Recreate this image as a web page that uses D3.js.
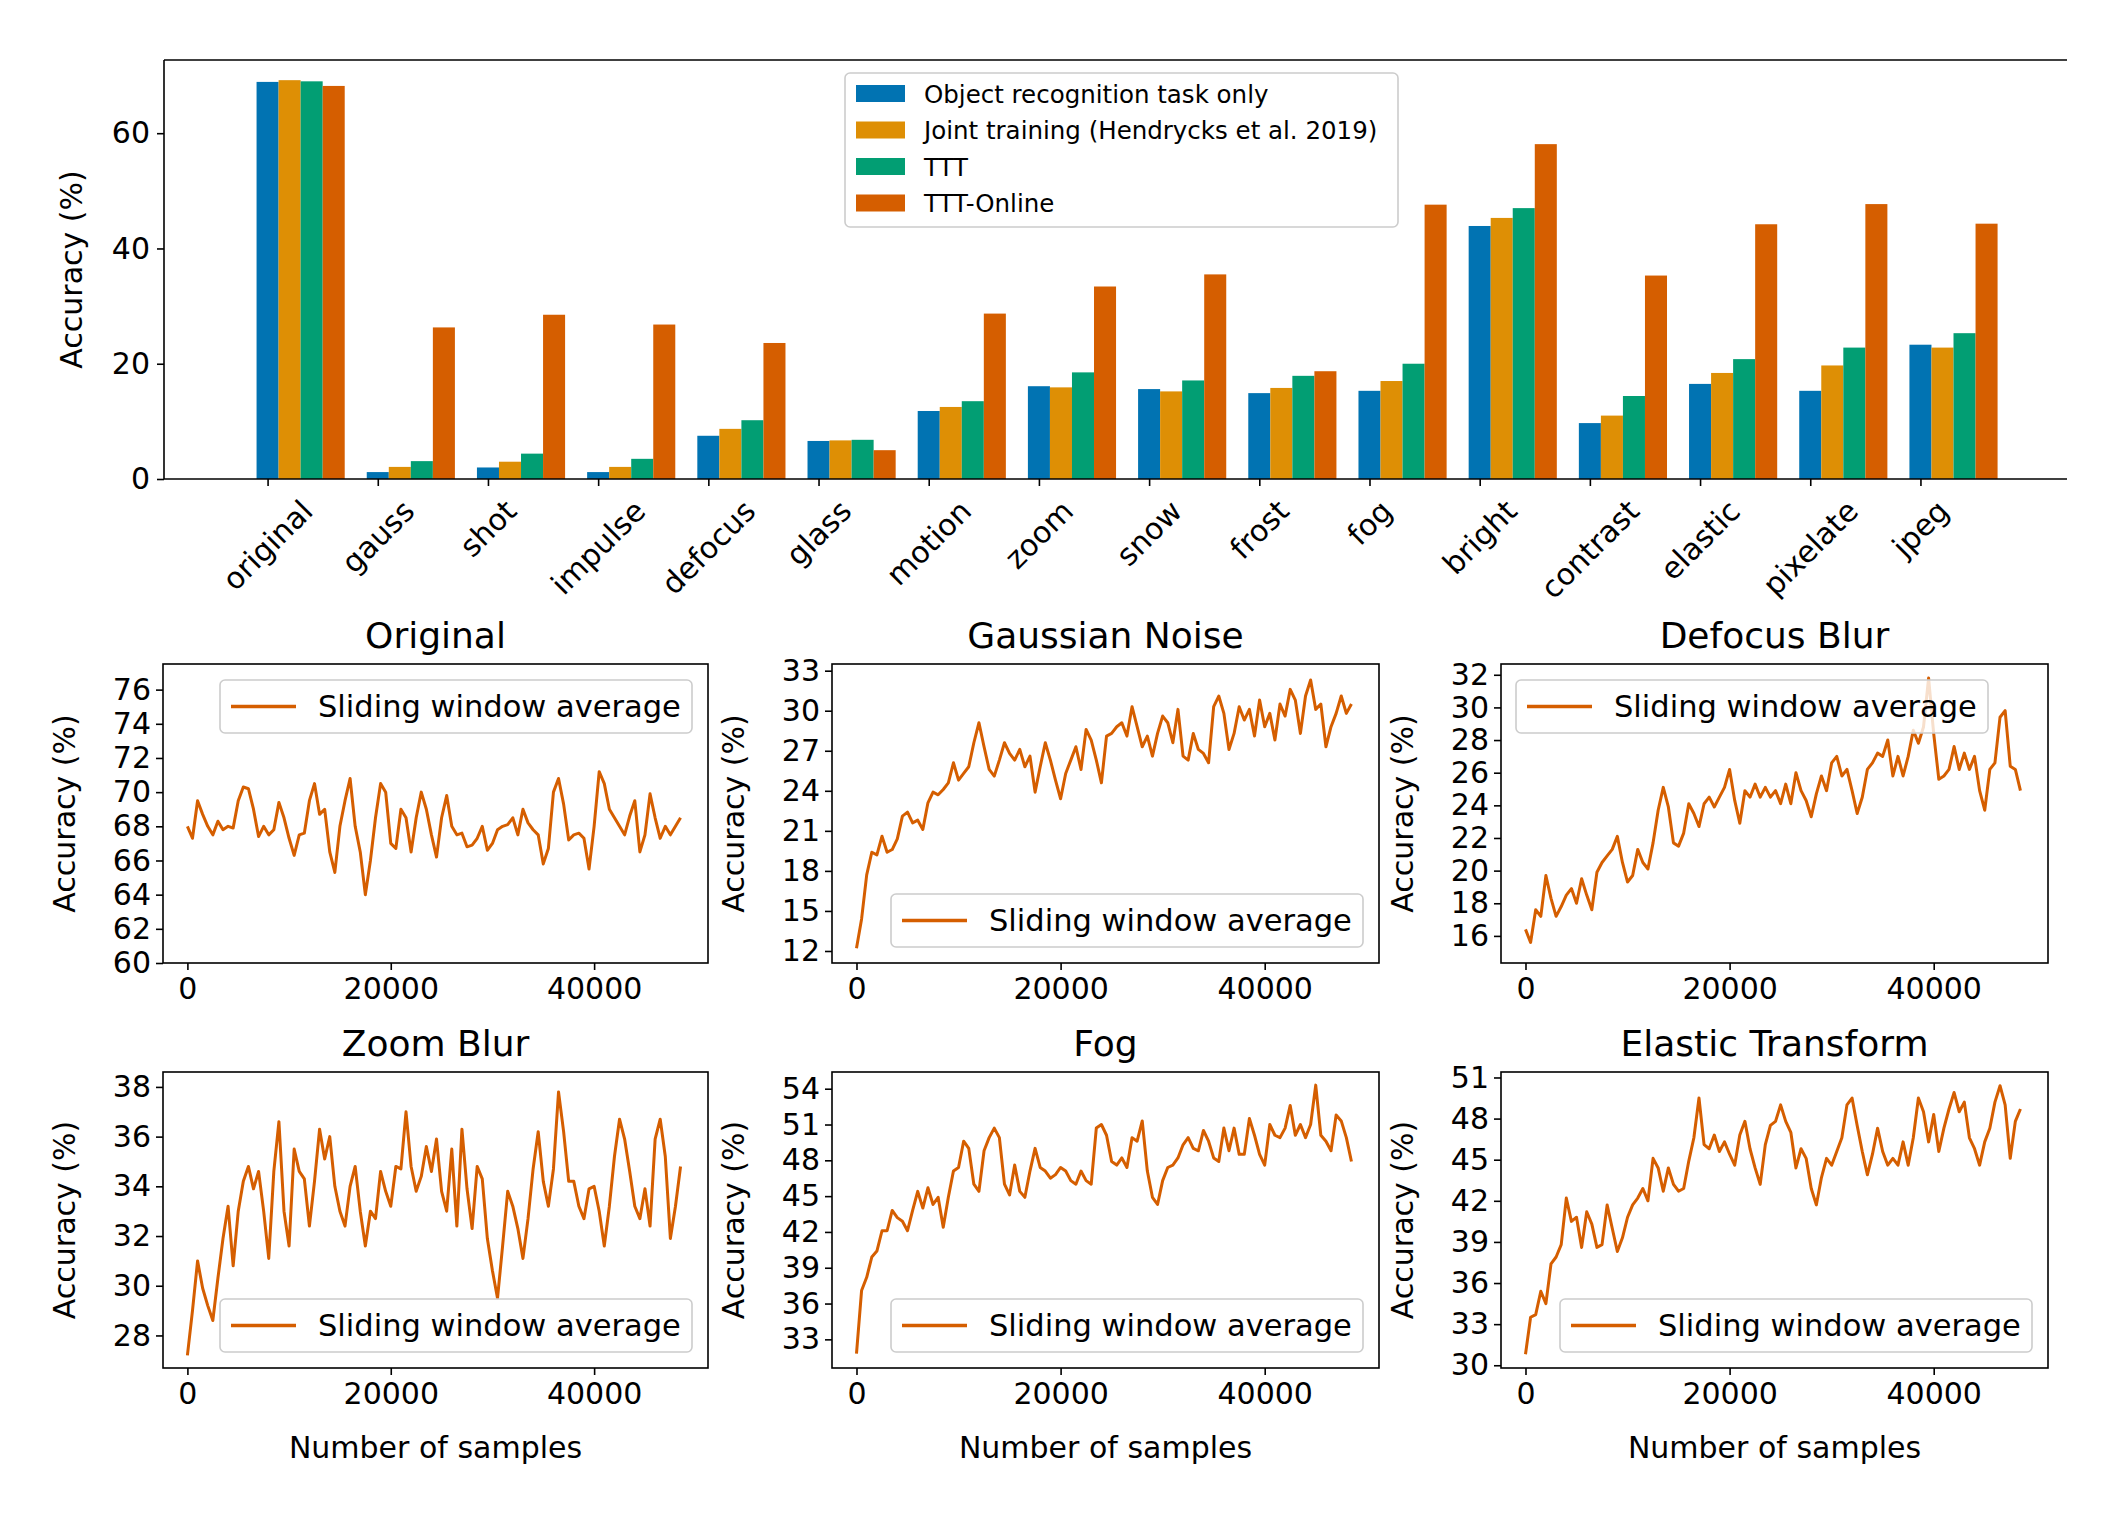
<!DOCTYPE html>
<html><head><meta charset="utf-8">
<script src="https://cdn.jsdelivr.net/npm/d3@7"></script>
<style>body{margin:0;background:#fff}text{font-family:"DejaVu Sans",sans-serif;fill:#000}</style>
</head><body><svg id="c" width="2126" height="1521"></svg>
<script>
const categories=["original","gauss","shot","impulse","defocus","glass","motion","zoom","snow","frost","fog","bright","contrast","elastic","pixelate","jpeg"];
const seriesNames=["Object recognition task only","Joint training (Hendrycks et al. 2019)","TTT","TTT-Online"];
const colors=["#0173b2","#de8f05","#029e73","#d55e00"];
const objOnly=[68.9,1.2,2.0,1.2,7.5,6.6,11.8,16.1,15.6,14.9,15.3,43.9,9.7,16.5,15.3,23.3];
const joint=[69.2,2.1,3.0,2.1,8.7,6.7,12.5,15.9,15.2,15.8,17.0,45.3,11.0,18.4,19.7,22.8];
const ttt=[69.0,3.1,4.4,3.5,10.2,6.8,13.5,18.5,17.1,17.9,20.0,47.0,14.4,20.8,22.8,25.3];
const tttOnline=[68.2,26.3,28.5,26.8,23.6,5.0,28.7,33.4,35.5,18.7,47.6,58.1,35.3,44.2,47.7,44.3];
const barTicks=[0,20,40,60];

const sampleStep=500; // samples between readings
const origAcc=[68,67.3,69.5,68.7,68,67.5,68.3,67.8,68,67.9,69.5,70.3,70.2,69,67.4,68,67.5,67.8,69.4,68.5,67.3,66.3,67.5,67.6,69.5,70.5,68.7,69,66.5,65.3,68,69.5,70.8,68,66.5,64.0,66,68.5,70.5,70,67,66.7,69,68.5,66.5,68.5,70,69,67.5,66.2,68.5,69.8,68,67.5,67.6,66.8,66.9,67.3,68,66.6,67,67.8,68,68.1,68.5,67.5,69,68.2,67.8,67.5,65.8,66.7,70,70.8,69.3,67.2,67.5,67.6,67.3,65.5,68,71.2,70.5,69,68.5,68,67.5,68.6,69.5,66.5,67.5,69.9,68.5,67.3,68,67.5,68,68.5];
const gaussAcc=[12.2,14.4,17.7,19.4,19.2,20.6,19.4,19.6,20.4,22.1,22.4,21.6,21.8,21.1,23.1,23.9,23.7,24.1,24.6,26.1,24.8,25.3,25.8,27.6,29.1,27.3,25.6,25.1,26.3,27.6,26.8,26.3,27.1,25.8,26.6,23.9,25.8,27.6,26.3,24.8,23.4,25.3,26.3,27.3,25.6,28.6,27.8,26.3,24.6,28.1,28.3,28.8,29.1,28.1,30.3,28.8,27.3,28.1,26.6,28.3,29.6,29.1,27.6,30.1,26.6,26.3,28.3,27.1,26.8,26.1,30.3,31.1,29.8,27.1,28.3,30.3,29.3,30.1,28.1,30.8,28.8,29.8,27.8,30.5,29.6,31.6,30.8,28.3,31.1,32.3,30.1,30.5,27.3,28.8,29.8,31.1,29.8,30.5];
const defocusAcc=[16.4,15.6,17.6,17.2,19.7,18.3,17.2,17.8,18.5,18.9,18,19.5,18.5,17.6,19.9,20.5,20.9,21.3,22.1,20.5,19.3,19.7,21.3,20.5,20.1,21.7,23.7,25.1,23.9,21.7,21.5,22.3,24.1,23.5,22.7,24.1,24.5,23.9,24.5,25.1,26.2,24.3,22.9,24.9,24.5,25.3,24.5,25.1,24.5,24.9,24.1,25.3,24.1,26,24.9,24.3,23.3,24.7,25.8,24.9,26.6,27,25.8,26.2,24.9,23.5,24.5,26.2,26.6,27.2,27,28,25.8,27,25.8,27,28.6,27.8,28.8,31.8,28.4,25.6,25.8,26.2,27.6,26.2,27.2,26.2,27,24.9,23.7,26.2,26.6,29.4,29.8,26.4,26.2,24.9];
const zoomAcc=[27.2,29.0,31.0,29.9,29.2,28.6,30.3,31.9,33.2,30.8,33.0,34.2,34.8,33.9,34.6,33.0,31.1,34.6,36.6,33.0,31.6,35.5,34.6,34.3,32.4,34.2,36.3,35.1,36.0,34.0,33.0,32.4,34.0,34.8,33.0,31.6,33.0,32.7,34.6,33.8,33.2,34.8,34.7,37.0,34.8,33.8,34.4,35.6,34.6,35.9,33.8,33.0,35.5,32.4,36.3,33.9,32.3,34.8,34.3,31.9,30.6,29.5,31.6,33.8,33.2,32.3,31.1,32.7,34.7,36.2,34.2,33.2,34.7,37.8,36.2,34.2,34.2,33.2,32.7,33.9,34.0,33.0,31.6,33.2,35.2,36.7,35.9,34.6,33.2,32.7,33.9,32.4,35.9,36.7,35.2,31.9,33.2,34.8];
const fogAcc=[31.8,37.1,38.2,39.9,40.4,42.1,42.1,43.8,43.2,42.9,42.1,43.8,45.4,44.0,45.7,44.3,44.9,42.4,44.9,47.1,47.4,49.6,49.0,46.0,45.4,48.8,49.9,50.7,49.9,46.0,45.1,47.6,45.4,44.9,47.1,49.0,47.4,47.1,46.5,46.8,47.4,47.1,46.3,46.0,47.1,46.3,46.0,50.7,51.0,50.1,47.9,47.6,48.2,47.4,49.9,49.6,51.3,47.1,44.9,44.3,46.3,47.4,47.6,48.2,49.3,49.9,49.0,48.8,50.5,49.6,48.2,47.9,50.7,48.8,50.7,48.5,48.5,51.5,50.1,48.5,47.6,51.0,50.1,49.9,50.7,52.6,50.1,51.0,49.9,51.0,54.3,50.1,49.6,48.8,51.8,51.3,49.9,47.9];
const elasticAcc=[30.8,33.5,33.7,35.4,34.5,37.4,37.9,38.8,42.2,40.5,40.8,38.6,41.2,40.3,38.6,38.8,41.7,40,38.3,39.3,40.8,41.7,42.2,42.9,42,45.1,44.4,42.7,44.4,43.2,42.7,42.9,44.9,46.6,49.5,46.1,45.8,46.8,45.6,46.3,45.4,44.6,46.8,47.8,45.8,44.4,43.2,46.1,47.5,47.8,49,47.8,47,44.4,45.8,45.1,42.9,41.7,43.7,45.1,44.6,45.6,46.6,49,49.5,47.5,45.6,43.9,45.4,47.3,45.6,44.6,45.1,44.6,46.3,44.6,46.6,49.5,48.5,46.3,48.3,45.6,47.3,48.7,49.9,48.5,49.2,46.6,45.8,44.6,46.3,47.3,49.2,50.4,49,45.1,47.8,48.7];

const panels=[
 {title:"Original",data:origAcc,dom:[60,77.5],ticks:[60,62,64,66,68,70,72,74,76],leg:"ur"},
 {title:"Gaussian Noise",data:gaussAcc,dom:[11.1,33.5],ticks:[12,15,18,21,24,27,30,33],leg:"lr"},
 {title:"Defocus Blur",data:defocusAcc,dom:[14.34,32.66],ticks:[16,18,20,22,24,26,28,30,32],leg:"ul"},
 {title:"Zoom Blur",data:zoomAcc,dom:[26.69,38.6],ticks:[28,30,32,34,36,38],leg:"lr"},
 {title:"Fog",data:fogAcc,dom:[30.6,55.4],ticks:[33,36,39,42,45,48,51,54],leg:"lr"},
 {title:"Elastic Transform",data:elasticAcc,dom:[29.8,51.4],ticks:[30,33,36,39,42,45,48,51],leg:"lr"}
];
const sampleTicks=[0,20000,40000];

const svg=d3.select("#c");
const FS=30;
function styleAxis(g){g.selectAll("path").remove();g.selectAll("line").attr("stroke","#000").attr("stroke-width",1.6);g.selectAll("text").attr("font-size",FS).attr("font-family","DejaVu Sans");}

// ---- Bar chart ----
const B={l:164,r:2067,t:60,b:479};
const xb=d3.scaleLinear().domain([-0.94,16.33]).range([B.l,B.r]);
const yb=d3.scaleLinear().domain([0,72.7]).range([B.b,B.t]);
const allSeries=[objOnly,joint,ttt,tttOnline];
allSeries.forEach((s,k)=>{
  svg.append("g").selectAll("rect").data(s).join("rect")
   .attr("x",(d,i)=>xb(i+0.2*k-0.1)).attr("width",xb(0.2)-xb(0))
   .attr("y",d=>yb(d)).attr("height",d=>yb(0)-yb(d)).attr("fill",colors[k]);
});
const gy=svg.append("g").attr("transform",`translate(${B.l},0)`).call(d3.axisLeft(yb).tickValues(barTicks).tickSize(7).tickPadding(7));styleAxis(gy);
const gx=svg.append("g").attr("transform",`translate(0,${B.b})`).call(d3.axisBottom(xb).tickValues(d3.range(categories.length)).tickSize(7).tickFormat(""));styleAxis(gx);
svg.append("line").attr("x1",B.l).attr("x2",B.l).attr("y1",B.t).attr("y2",B.b).attr("stroke","#000").attr("stroke-width",1.6);
svg.append("line").attr("x1",B.l).attr("x2",B.r).attr("y1",B.t).attr("y2",B.t).attr("stroke","#000").attr("stroke-width",1.6);
svg.append("line").attr("x1",B.l).attr("x2",B.r).attr("y1",B.b).attr("y2",B.b).attr("stroke","#000").attr("stroke-width",1.6);
categories.forEach((c,i)=>{
  const t=svg.append("text").text(c).attr("font-size",FS).attr("text-anchor","middle").attr("dominant-baseline","central");
  const w=t.node().getComputedTextLength();
  const h=(w+FS)*0.707;
  t.attr("transform",`translate(${xb(i)},${B.b+16+h/2}) rotate(-45)`);
});
svg.append("text").text("Accuracy (%)").attr("font-size",FS).attr("text-anchor","middle").attr("transform",`translate(82,${(B.t+B.b)/2}) rotate(-90)`);
// legend
const L=svg.append("g").attr("transform","translate(845,73)");
L.append("rect").attr("width",553).attr("height",154).attr("rx",5).attr("fill","#fff").attr("fill-opacity",0.8).attr("stroke","#ccc").attr("stroke-width",1.6);
seriesNames.forEach((n,k)=>{
  L.append("rect").attr("x",11).attr("y",12+k*36.5).attr("width",49).attr("height",17).attr("fill",colors[k]);
  L.append("text").text(n).attr("x",79).attr("y",21+k*36.5).attr("dominant-baseline","central").attr("font-size",24.5);
});

// ---- Small panels ----
const cols=[[163,708],[832,1379],[1501,2048]];
const rows=[[664,963],[1072,1368]];
panels.forEach((p,idx)=>{
  const [x0,x1]=cols[idx%3],[y0,y1]=rows[Math.floor(idx/3)];
  const xs=d3.scaleLinear().domain([-2400,51200]).range([x0,x1]);
  const ys=d3.scaleLinear().domain(p.dom).range([y1,y0]);
  const g=svg.append("g");
  const line=d3.line().x((d,i)=>xs(i*sampleStep)).y(d=>ys(d));
  g.append("path").datum(p.data).attr("d",line).attr("fill","none").attr("stroke","#d55e00").attr("stroke-width",3).attr("stroke-linejoin","round");
  const ay=g.append("g").attr("transform",`translate(${x0},0)`).call(d3.axisLeft(ys).tickValues(p.ticks).tickSize(7).tickPadding(5));styleAxis(ay);
  const ax=g.append("g").attr("transform",`translate(0,${y1})`).call(d3.axisBottom(xs).tickValues(sampleTicks).tickFormat(d3.format("d")).tickSize(7).tickPadding(8));styleAxis(ax);
  g.append("rect").attr("x",x0).attr("y",y0).attr("width",x1-x0).attr("height",y1-y0).attr("fill","none").attr("stroke","#000").attr("stroke-width",1.6);
  g.append("text").text(p.title).attr("x",(x0+x1)/2).attr("y",y0-16).attr("text-anchor","middle").attr("font-size",36);
  g.append("text").text("Accuracy (%)").attr("font-size",FS).attr("text-anchor","middle").attr("transform",`translate(${x0-88},${(y0+y1)/2}) rotate(-90)`);
  if(idx>=3) g.append("text").text("Number of samples").attr("x",(x0+x1)/2).attr("y",y1+90).attr("text-anchor","middle").attr("font-size",FS);
  const lw=472,lh=53;
  let lx=p.leg==="ul"?x0+15:x1-16-lw;
  let ly=p.leg==="lr"?y1-16-lh:y0+16;
  const lg=g.append("g").attr("transform",`translate(${lx},${ly})`);
  lg.append("rect").attr("width",lw).attr("height",lh).attr("rx",5).attr("fill","#fff").attr("fill-opacity",0.8).attr("stroke","#ccc").attr("stroke-width",1.6);
  lg.append("line").attr("x1",11).attr("x2",76).attr("y1",lh/2).attr("y2",lh/2).attr("stroke","#d55e00").attr("stroke-width",3.5);
  lg.append("text").text("Sliding window average").attr("x",98).attr("y",lh/2).attr("dominant-baseline","central").attr("font-size",30.5);
});
</script></body></html>
